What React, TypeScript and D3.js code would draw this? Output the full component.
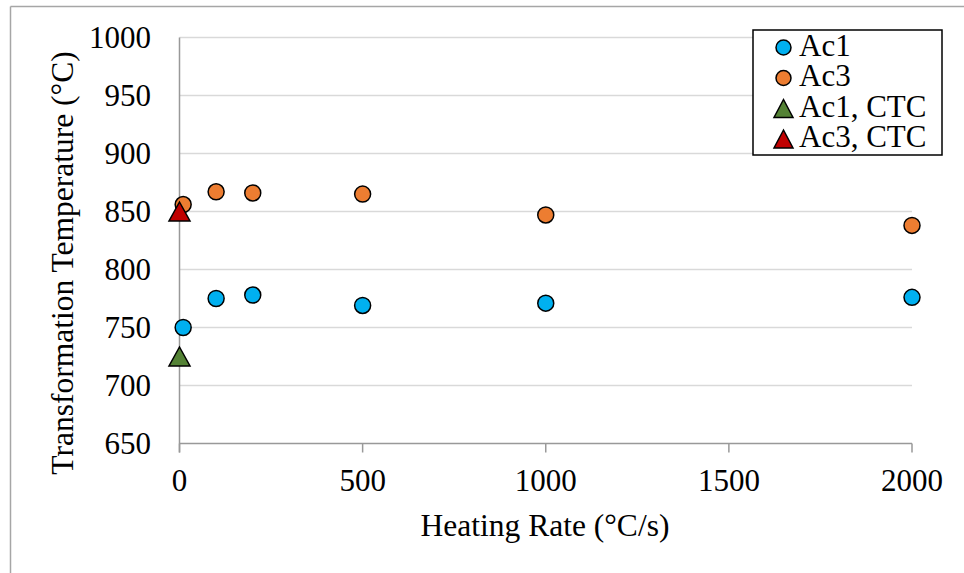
import React from "react";
import * as d3 from "d3";

const heatingRates = [10, 100, 200, 500, 1000, 2000];
const ac1Values = [750, 775, 778, 769, 771, 776];
const ac3Values = [856, 867, 866, 865, 847, 838];
const ctcRates = [0];
const ac1CtcValues = [725];
const ac3CtcValues = [850];
const xTicks = [0, 500, 1000, 1500, 2000];
const yTicks = [650, 700, 750, 800, 850, 900, 950, 1000];

const legendItems = [
  { label: "Ac1", shape: "circle", color: "#00B0F0" },
  { label: "Ac3", shape: "circle", color: "#ED7D31" },
  { label: "Ac1, CTC", shape: "triangle", color: "#548235" },
  { label: "Ac3, CTC", shape: "triangle", color: "#C00000" },
];

const FONT = "'Liberation Serif', 'Times New Roman', serif";

function triPath(cx: number, cy: number, w: number, h: number) {
  return `M${cx},${cy - h / 2}L${cx + w / 2},${cy + h / 2}L${cx - w / 2},${cy + h / 2}Z`;
}

export default function App() {
  const W = 964;
  const H = 573;
  const x = d3.scaleLinear().domain([0, 2000]).range([179.5, 912]);
  const y = d3.scaleLinear().domain([650, 1000]).range([443.5, 37.5]);

  return (
    <svg
      width={W}
      height={H}
      style={{ position: "absolute", left: 0, top: 0, background: "#fff" }}
      fontFamily={FONT}
    >
      <rect x={0} y={0} width={W} height={H} fill="#fff" />
      {/* outer chart frame */}
      <line x1={10.5} y1={6.5} x2={W} y2={6.5} stroke="#a6a6a6" strokeWidth={1.5} />
      <line x1={10.5} y1={6.5} x2={10.5} y2={H} stroke="#a6a6a6" strokeWidth={1.5} />

      {/* gridlines */}
      {yTicks.filter((t) => t !== 650).map((t) => (
        <line key={t} x1={x(0)} x2={x(2000)} y1={y(t)} y2={y(t)} stroke="#d9d9d9" strokeWidth={1.5} />
      ))}

      {/* axes */}
      <line x1={x(0)} x2={x(0)} y1={y(1000)} y2={y(650) + 9} stroke="#999" strokeWidth={1.5} />
      <line x1={x(0)} x2={x(2000)} y1={y(650)} y2={y(650)} stroke="#999" strokeWidth={1.5} />
      {xTicks.map((t) => (
        <line key={t} x1={x(t)} x2={x(t)} y1={y(650)} y2={y(650) + 9} stroke="#999" strokeWidth={1.5} />
      ))}

      {/* tick labels */}
      {yTicks.map((t) => (
        <text key={t} x={151} y={y(t) + 10.5} textAnchor="end" fontSize={31} fill="#000">
          {t}
        </text>
      ))}
      {xTicks.map((t) => (
        <text key={t} x={x(t)} y={491} textAnchor="middle" fontSize={31} fill="#000">
          {t}
        </text>
      ))}

      {/* axis titles */}
      <text x={545} y={536} textAnchor="middle" fontSize={31.5} fill="#000">
        Heating Rate (°C/s)
      </text>
      <text transform="translate(73,263) rotate(-90)" textAnchor="middle" fontSize={31.5} fill="#000">
        Transformation Temperature (°C)
      </text>

      {/* data */}
      {heatingRates.map((r, i) => (
        <circle key={"a1" + i} cx={x(r)} cy={y(ac1Values[i])} r={8} fill="#00B0F0" stroke="#000" strokeWidth={1.5} />
      ))}
      {heatingRates.map((r, i) => (
        <circle key={"a3" + i} cx={x(r)} cy={y(ac3Values[i])} r={8} fill="#ED7D31" stroke="#000" strokeWidth={1.5} />
      ))}
      {ctcRates.map((r, i) => (
        <path key={"c1" + i} d={triPath(x(r), y(ac1CtcValues[i]), 21, 19)} fill="#548235" stroke="#000" strokeWidth={1.5} strokeLinejoin="miter" />
      ))}
      {ctcRates.map((r, i) => (
        <path key={"c3" + i} d={triPath(x(r), y(ac3CtcValues[i]), 21, 19)} fill="#C00000" stroke="#000" strokeWidth={1.5} strokeLinejoin="miter" />
      ))}

      {/* legend */}
      <rect x={753} y={30} width={189} height={125} fill="#fff" stroke="#000" strokeWidth={1.5} />
      {legendItems.map((it, i) => {
        const cy = 47.5 + i * 30.5;
        return (
          <g key={it.label}>
            {it.shape === "circle" ? (
              <circle cx={783.5} cy={cy} r={7.5} fill={it.color} stroke="#000" strokeWidth={1.5} />
            ) : (
              <path d={triPath(783.5, cy, 19, 18)} fill={it.color} stroke="#000" strokeWidth={1.5} />
            )}
            <text x={799} y={cy + 8} fontSize={31} fill="#000">
              {it.label}
            </text>
          </g>
        );
      })}
    </svg>
  );
}
